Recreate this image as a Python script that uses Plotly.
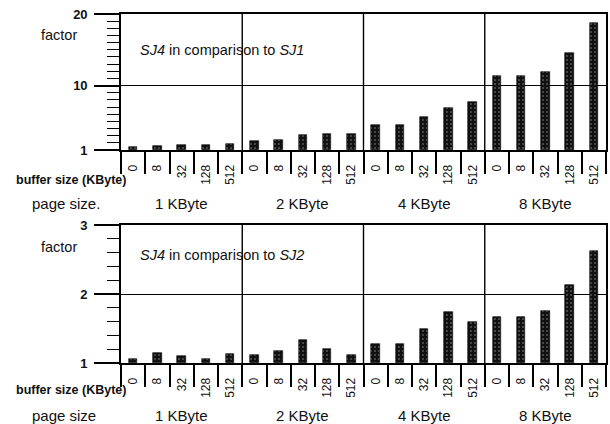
import plotly.graph_objects as go

buffer_sizes = ["0", "8", "32", "128", "512"]
page_sizes = ["1 KByte", "2 KByte", "4 KByte", "8 KByte"]

sj1_factor = [1.4, 1.6, 1.7, 1.7, 1.8,
              2.2, 2.4, 3.05, 3.25, 3.3,
              4.5, 4.5, 5.6, 6.9, 7.7,
              11.3, 11.4, 11.95, 14.5, 18.7]
sj2_factor = [1.06, 1.14, 1.1, 1.06, 1.13,
              1.12, 1.17, 1.33, 1.2, 1.12,
              1.27, 1.28, 1.5, 1.74, 1.6,
              1.67, 1.67, 1.76, 2.13, 2.62]

top_y_ticks = [1, 10, 20]
bot_y_ticks = [1, 2, 3]

FONT = "Liberation Sans, Arial, sans-serif"
W, H = 610, 424

n = len(buffer_sizes) * len(page_sizes)
xs = list(range(n))
tick_text = buffer_sizes * len(page_sizes)
boundaries = [i - 0.5 for i in range(n + 1)]
group_lines = [len(buffer_sizes) * g - 0.5 for g in range(1, len(page_sizes))]
group_centers = [len(buffer_sizes) * g + (len(buffer_sizes) - 1) / 2 for g in range(len(page_sizes))]

def py(pix):
    return 1 - pix / H

def px(pix):
    return pix / W

fig = go.Figure()
bar_style = dict(
    color="#111",
    line=dict(color="#000", width=0.6),
    pattern=dict(shape=".", bgcolor="#111", fgcolor="#9a9a9a", size=4, solidity=0.2),
)
fig.add_trace(go.Bar(x=xs, y=[v - 1 for v in sj1_factor], base=1, width=0.36,
                     marker=bar_style, xaxis="x", yaxis="y", showlegend=False))
fig.add_trace(go.Bar(x=xs, y=[v - 1 for v in sj2_factor], base=1, width=0.36,
                     marker=bar_style, xaxis="x2", yaxis="y2", showlegend=False))

xdom = [px(121), px(606)]

def xaxis_cfg(anchor):
    return dict(
        domain=xdom, range=[-0.5, n - 0.5], anchor=anchor, automargin=False,
        tickmode="array", tickvals=xs, ticktext=tick_text, tickangle=-90,
        ticks="", ticklabelstandoff=8,
        tickfont=dict(family=FONT, size=12, color="#111"),
        showline=True, linecolor="#000", linewidth=2, mirror=True,
        showgrid=False, zeroline=False,
        minor=dict(tickmode="array", tickvals=boundaries, ticks="outside",
                   ticklen=22, tickwidth=1.6, tickcolor="#000"),
    )

def yaxis_cfg(anchor, dom, rng, tickvals, minor_dtick):
    return dict(
        domain=dom, range=rng, anchor=anchor, automargin=False,
        tickmode="array", tickvals=tickvals, ticks="outside", ticklen=25,
        tickwidth=1.6, tickcolor="#000", ticklabelstandoff=4,
        tickfont=dict(family=FONT, size=13, color="#111", weight="bold"),
        showline=True, linecolor="#000", linewidth=1.6, mirror=True,
        showgrid=True, gridcolor="#000", gridwidth=1.3, zeroline=False,
        minor=dict(tick0=1, dtick=minor_dtick, ticks="outside", ticklen=12,
                   tickwidth=1.4, tickcolor="#000", showgrid=False),
    )

fig.update_layout(
    width=W, height=H, autosize=False,
    margin=dict(l=0, r=0, t=0, b=0, pad=0),
    paper_bgcolor="white", plot_bgcolor="white",
    bargap=0,
    xaxis=xaxis_cfg("y"),
    yaxis=yaxis_cfg("x", [py(150), py(14)], [1, 20], top_y_ticks, 1),
    xaxis2=xaxis_cfg("y2"),
    yaxis2=yaxis_cfg("x2", [py(363), py(225)], [1, 3], bot_y_ticks, 0.2),
    font=dict(family=FONT, color="#111"),
)

shapes = []
for xr, yr in (("x", "y domain"), ("x2", "y2 domain")):
    for g in group_lines:
        shapes.append(dict(type="line", xref=xr, yref=yr, x0=g, x1=g, y0=0, y1=1,
                           line=dict(color="#000", width=1.4)))
fig.update_layout(shapes=shapes)

ann = []
def text(x, y, s, size=14, xanchor="left", xref="paper", bold=False):
    ann.append(dict(x=x, y=y, xref=xref, yref="paper", text=s, showarrow=False,
                    xanchor=xanchor, yanchor="middle",
                    font=dict(family=FONT, size=size, color="#111",
                              weight="bold" if bold else "normal")))

panels = [
    dict(factor_y=35, title_y=50, title="<i>SJ4</i> in comparison to <i>SJ1</i>",
         buf_y=180, page_y=203, page_label="page size."),
    dict(factor_y=247, title_y=255, title="<i>SJ4</i> in comparison to <i>SJ2</i>",
         buf_y=390, page_y=415, page_label="page size"),
]
for i, p in enumerate(panels):
    xr = "x" if i == 0 else "x2"
    text(px(39), py(p["factor_y"]), "factor", 14.5)
    text(px(138), py(p["title_y"]), p["title"], 14.5)
    text(px(14), py(p["buf_y"]), "buffer size (KByte)", 12.5, bold=True)
    text(px(30), py(p["page_y"]), p["page_label"], 15)
    for c, lab in zip(group_centers, page_sizes):
        text(c, py(p["page_y"]), lab, 15, xanchor="center", xref=xr)
fig.update_layout(annotations=ann)

fig.write_html("out.html", config={"displayModeBar": False},
               post_script="document.body.style.margin='0';document.body.style.overflow='hidden';")
